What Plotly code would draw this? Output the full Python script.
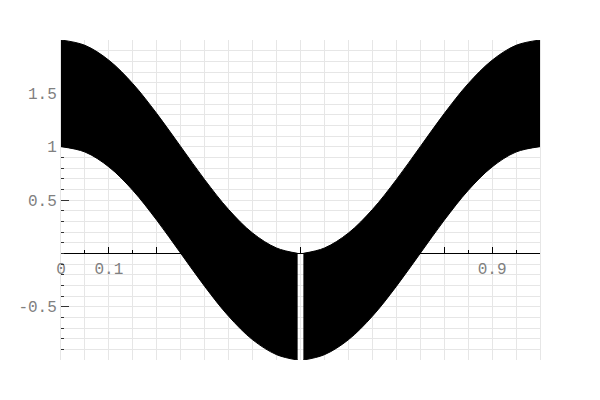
import plotly.graph_objects as go

# Envelope of the dense oscillating line.
# The band shows a thin white gap just around x = 0.5, so it is split in two.
x_left = [0.00, 0.05, 0.10, 0.15, 0.20, 0.25, 0.30, 0.35, 0.40, 0.45, 0.494]
upper_left = [2.00, 1.95, 1.81, 1.59, 1.31, 1.00, 0.69, 0.41, 0.19, 0.05, 0.00]
lower_left = [1.00, 0.95, 0.81, 0.59, 0.31, 0.00, -0.31, -0.59, -0.81, -0.95, -1.00]

x_right = [0.506, 0.55, 0.60, 0.65, 0.70, 0.75, 0.80, 0.85, 0.90, 0.95, 1.00]
upper_right = [0.00, 0.05, 0.19, 0.41, 0.69, 1.00, 1.31, 1.59, 1.81, 1.95, 2.00]
lower_right = [-1.00, -0.95, -0.81, -0.59, -0.31, 0.00, 0.31, 0.59, 0.81, 0.95, 1.00]

x_tickvals = [0, 0.1, 0.2, 0.3, 0.4, 0.5, 0.6, 0.7, 0.8, 0.9]
x_ticktext = ["0", "0.1", "", "", "", "", "", "", "", "0.9"]
x_minorvals = [0.05, 0.15, 0.25, 0.35, 0.45, 0.55, 0.65, 0.75, 0.85, 0.95]
y_tickvals = [-0.5, 0.5, 1, 1.5]
y_ticktext = ["-0.5", "0.5", "1", "1.5"]
y_minorvals = [round(-1 + 0.1 * i, 1) for i in range(31)]

fig = go.Figure()
for xs, lo, up in [(x_left, lower_left, upper_left), (x_right, lower_right, upper_right)]:
    fig.add_trace(go.Scatter(x=xs, y=lo, mode="lines",
                             line=dict(color="black", width=1, shape="spline"),
                             hoverinfo="skip", showlegend=False))
    fig.add_trace(go.Scatter(x=xs, y=up, mode="lines", fill="tonexty",
                             fillcolor="black",
                             line=dict(color="black", width=1, shape="spline"),
                             hoverinfo="skip", showlegend=False))

grid = "#e6e6e6"
font = dict(family="Liberation Mono", size=16, color="#808080")

fig.update_layout(
    width=600, height=400,
    margin=dict(l=61, r=60, t=40, b=40),
    paper_bgcolor="white", plot_bgcolor="white",
    showlegend=False,
    xaxis=dict(
        range=[0, 1], tickmode="array", tickvals=x_tickvals, ticktext=x_ticktext,
        ticks="inside", ticklen=6, tickcolor="black", tickwidth=1,
        showline=True, linecolor="black", linewidth=1,
        anchor="free", position=1/3,
        showgrid=True, gridcolor=grid, gridwidth=1, zeroline=False,
        tickfont=font, layer="below traces",
        minor=dict(tickmode="array", tickvals=x_minorvals, ticks="inside",
                   ticklen=3, tickcolor="black", showgrid=True, gridcolor=grid),
    ),
    yaxis=dict(
        range=[-1, 2], tickmode="array", tickvals=y_tickvals, ticktext=y_ticktext,
        ticks="inside", ticklen=8, tickcolor="#333333", tickwidth=1,
        showline=True, linecolor=grid, linewidth=1, mirror=True,
        showgrid=True, gridcolor=grid, gridwidth=1, zeroline=False,
        tickfont=font, layer="below traces",
        minor=dict(tickmode="array", tickvals=y_minorvals, ticks="inside",
                   ticklen=3, tickcolor="#333333", showgrid=True, gridcolor=grid),
    ),
)

fig.write_html("out.html")
